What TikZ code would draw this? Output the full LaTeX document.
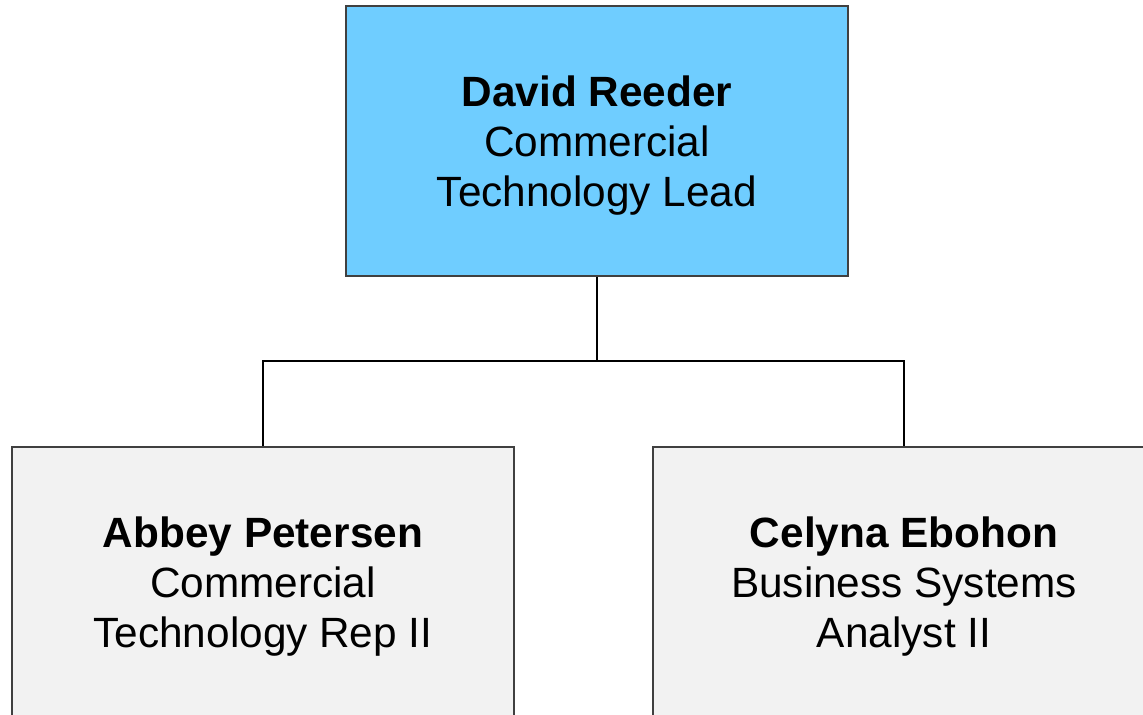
\documentclass[tikz,border=0pt]{standalone}
\usepackage{fontspec}
\setmainfont{Liberation Sans}
\usetikzlibrary{positioning}
\newcommand{\toppad}{\rule{0pt}{23pt}}

\begin{document}
\begin{tikzpicture}[x=0.02cm, y=-0.02cm,
  bossbox/.style={draw=black!75, line width=0.6pt, fill={rgb,255:red,111;green,205;blue,255},
    minimum width=502*0.02cm, minimum height=270*0.02cm, align=center,
    font=\fontsize{24.1}{28.4}\selectfont, inner sep=0pt},
  staffbox/.style={bossbox, fill={rgb,255:red,242;green,242;blue,242}},
  linkone/.style={draw=black, line width=0.6pt},
]
  \useasboundingbox (0,0) rectangle (1143,715);
  \clip (0,0) rectangle (1143,715);
  \node[bossbox] (reeder) at (597,141) {\toppad\textbf{David Reeder}\\Commercial\\Technology Lead};
  \node[staffbox] (petersen) at (263,582) {\toppad\textbf{Abbey Petersen}\\Commercial\\Technology Rep II};
  \node[staffbox] (ebohon) at (904,582) {\toppad\textbf{Celyna Ebohon}\\Business Systems\\Analyst II};
  \coordinate (split) at (597,361);
  % reporting lines
  \draw[linkone] (reeder.south) -- (split) -| (petersen.north);
  \draw[linkone] (split) -| (ebohon.north);
\end{tikzpicture}
\end{document}
